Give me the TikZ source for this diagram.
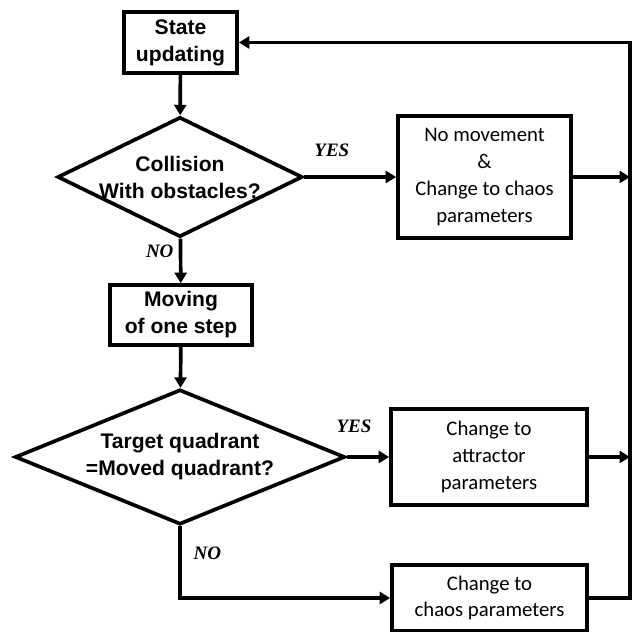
\documentclass[tikz,border=0pt]{standalone}
\usepackage{fontspec}
\setmainfont{Liberation Sans}
\newfontfamily\calfont{Carlito}
\newfontfamily\timesfont{Liberation Serif}
\usetikzlibrary{arrows.meta,shapes.geometric}

\begin{document}
\begin{tikzpicture}[
  line width=2.1pt,
  >={Triangle[length=2.1mm,width=2.4mm]},
  mybox/.style={draw,rectangle,align=center,inner sep=2pt,font=\fontsize{12}{15.4}\selectfont\bfseries},
  mydec/.style={draw,diamond,inner sep=0pt},
  mychange/.style={draw,rectangle,align=center,inner sep=2pt,font=\fontsize{11.8}{15.2}\selectfont\calfont},
  myans/.style={font=\fontsize{10.8}{12}\selectfont\timesfont\bfseries\itshape,inner sep=1pt}]

        \useasboundingbox (0,0) rectangle (12.66,-12.64);

        %main column
        \node[mybox,minimum width=2.26cm,minimum height=1.22cm] (state) at (3.61,-0.85) {State\\updating};
        \node[mydec,minimum width=4.9cm,minimum height=2.4cm,
              label={[align=center,font=\fontsize{12}{15.4}\selectfont\bfseries]center:Collision\\With obstacles?}] (coll) at (3.6,-3.54) {};
        \node[mybox,minimum width=2.84cm,minimum height=1.2cm] (move) at (3.62,-6.3) {Moving\\of one step};
        \node[mydec,minimum width=6.6cm,minimum height=2.7cm,
              label={[align=center,font=\fontsize{12}{15.4}\selectfont\bfseries]center:Target quadrant\\=Moved quadrant?}] (quad) at (3.6,-9.14) {};

        %right column
        \node[mychange,minimum width=3.46cm,minimum height=2.44cm] (nomove) at (9.69,-3.54) {No movement\\\&\\Change to chaos\\parameters};
        \node[mychange,minimum width=3.92cm,minimum height=1.92cm] (attr) at (9.78,-9.14) {Change to\\attractor\\parameters};
        \node[mychange,minimum width=3.9cm,minimum height=1.32cm] (chaos) at (9.79,-11.96) {Change to\\chaos parameters};

        %return line
        \coordinate (rt) at (12.6,-0.85);

        %vertical arrows
        \draw [->] (state) -- (coll);
        \draw [->] (coll) -- (move) node[myans, pos=0.29, left=2pt] {NO};
        \draw [->] (move) -- (quad);

        %horizontal arrows
        \draw [->] (coll.east) -- (nomove.west) node[myans, pos=0.3, above=0.34cm] {YES};
        \draw [->] (quad.east) -- (attr.west) node[myans, pos=0.17, above=0.42cm] {YES};
        \draw [->] (quad.south) |- (chaos.west) node[myans, pos=0.19, right=0.2cm] {NO};

        %to the return line
        \draw [->] (nomove.east) -- (nomove.east -| rt);
        \draw [->] (attr.east) -- (attr.east -| rt);
        \draw [->] (chaos.east) -| (rt) -- (state.east);
\end{tikzpicture}
\end{document}
